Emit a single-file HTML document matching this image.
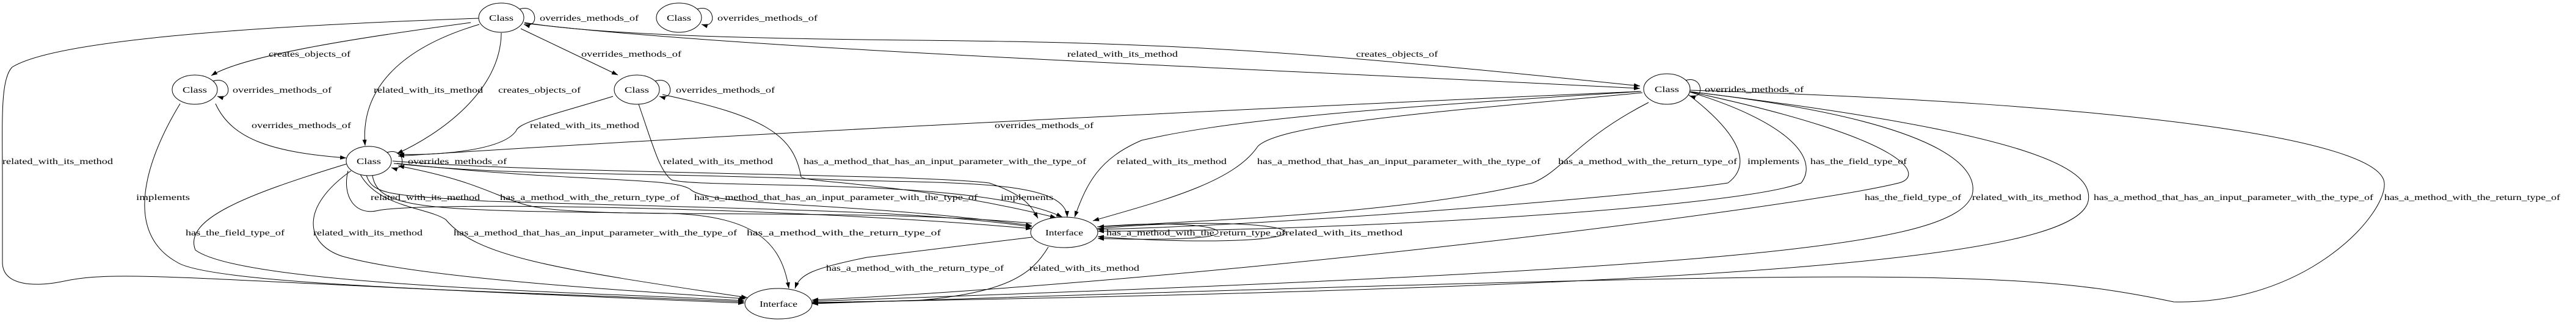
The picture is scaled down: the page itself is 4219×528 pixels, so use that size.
<!DOCTYPE html>
<html><head><meta charset="utf-8"><style>
html,body{margin:0;padding:0;background:#fff;}
svg{display:block;}
text{font-family:"Liberation Serif",serif;font-size:14px;fill:#000;}
</style></head><body>
<svg width="4219" height="528" viewBox="0 0 4219 528" xmlns="http://www.w3.org/2000/svg">
<defs>
<marker id="a" markerUnits="userSpaceOnUse" markerWidth="11" markerHeight="8" refX="10" refY="3.5" orient="auto"><path d="M0,0 L10,3.5 L0,7 z" fill="#000"/></marker>
</defs>
<g fill="none" stroke="#000" stroke-width="1" marker-end="url(#a)">
<!-- self loops -->
<path d="M851,15 C880,5 885,48 858,40"/>
<path d="M1142,15 C1171,5 1176,48 1149,40"/>
<path d="M349,133 C378,123 383,166 356,158"/>
<path d="M1073,133 C1102,123 1107,166 1080,158"/>
<path d="M634,250 C663,240 668,283 641,275"/>
<path d="M2760,132 C2789,122 2794,165 2767,157"/>
<path d="M1797,375 C1950,360 2105,366 2105,381 C2105,396 1950,400 1798,388"/>
<path d="M1797,372 C1900,363 1995,368 1995,381 C1995,392 1900,394 1798,391"/>
<!-- A edges -->
<path d="M771,37 C600,60 400,90 346,124"/>
<path d="M785,40 C650,80 590,150 598,239"/>
<path d="M821,54 C820,150 720,220 650,252"/>
<path d="M853,47 L1012,123"/>
<path d="M784,30 C500,40 100,60 20,110 C0,130 4,200 4,300 L4,430 C4,470 60,470 100,462 C200,440 300,460 1219,497"/>
<path d="M859,37 C1000,60 1300,64 1500,66 C1900,70 2100,80 2686,141"/>
<path d="M859,38 C1200,80 2000,110 2686,145"/>
<!-- C edges -->
<path d="M353,170 C380,230 450,250 567,259"/>
<path d="M295,170 C240,260 200,380 290,430 C350,470 900,480 1219,495"/>
<!-- D edges -->
<path d="M1004,158 C900,190 850,200 845,215 C820,250 700,255 652,253"/>
<path d="M1046,171 C1070,240 1080,280 1100,295 C1150,310 1600,290 1740,356"/>
<path d="M1085,155 C1250,190 1300,220 1312,290 C1320,300 1500,300 1730,357"/>
<!-- H to E -->
<path d="M2686,150 C2000,180 1200,220 652,256"/>
<!-- E to G -->
<path d="M643,264 C900,285 1500,285 1620,300 C1680,320 1690,340 1700,358"/>
<path d="M645,268 C850,290 1000,280 1400,296 C1600,300 1745,300 1748,356"/>
<path d="M600,287 C610,320 640,320 800,330 C1300,345 1500,345 1690,372"/>
<path d="M1690,366 C1400,340 1000,360 880,340 C820,330 800,300 652,272"/>
<path d="M650,268 C950,300 1100,290 1130,310 C1160,340 1400,330 1690,370"/>
<path d="M570,280 C560,320 580,355 620,345 C700,330 1300,340 1690,375"/>
<!-- E to F -->
<path d="M567,269 C400,320 300,360 320,410 C400,470 1000,480 1219,493"/>
<path d="M575,280 C490,340 500,400 560,420 C700,460 1100,480 1221,490"/>
<path d="M590,286 C620,340 700,340 730,360 C780,420 900,440 1224,488"/>
<path d="M610,288 C620,345 700,345 1100,350 C1240,355 1280,400 1292,473"/>
<!-- G to F -->
<path d="M1690,389 L1420,422 C1330,440 1310,450 1302,473"/>
<path d="M1717,405 C1690,450 1650,480 1500,493 L1330,497"/>
<!-- H to G -->
<path d="M2688,150 C2200,180 2000,200 1870,230 C1800,260 1780,300 1760,356"/>
<path d="M2690,152 C2400,180 2100,200 2060,240 C2020,300 1900,330 1790,362"/>
<path d="M2700,168 C2580,230 2560,280 2510,300 C2300,350 2000,360 1798,372"/>
<path d="M2765,155 C2850,220 2870,270 2830,300 C2700,320 2100,370 1798,376"/>
<path d="M2765,150 C2930,200 2980,260 2950,300 C2850,340 2200,380 1798,379"/>
<!-- H to F -->
<path d="M2765,150 C3140,230 3150,290 3110,300 C2950,340 2000,460 1330,492"/>
<path d="M2765,150 C3200,200 3240,280 3230,320 C3200,400 2900,440 1330,494"/>
<path d="M2765,150 C3350,220 3430,280 3420,330 C3400,420 2900,470 1330,496"/>
<path d="M2768,148 C3500,170 3900,230 3905,300 C3910,350 3780,500 3560,495 C3300,440 3100,440 1330,498"/>
</g>
<g fill="#fff" stroke="#000" stroke-width="1">
<ellipse cx="821" cy="29" rx="37" ry="24"/>
<ellipse cx="1112" cy="29" rx="37" ry="24"/>
<ellipse cx="319" cy="147" rx="37" ry="24"/>
<ellipse cx="1043" cy="147" rx="37" ry="24"/>
<ellipse cx="604" cy="264" rx="37" ry="24"/>
<ellipse cx="2730" cy="146" rx="38" ry="25"/>
<ellipse cx="1275" cy="498" rx="55" ry="25"/>
<ellipse cx="1743" cy="381" rx="55" ry="25"/>
</g>
<g text-anchor="middle">
<text x="821" y="34" textLength="40" lengthAdjust="spacingAndGlyphs">Class</text>
<text x="1112" y="34" textLength="40" lengthAdjust="spacingAndGlyphs">Class</text>
<text x="319" y="152" textLength="40" lengthAdjust="spacingAndGlyphs">Class</text>
<text x="1043" y="152" textLength="40" lengthAdjust="spacingAndGlyphs">Class</text>
<text x="604" y="269" textLength="40" lengthAdjust="spacingAndGlyphs">Class</text>
<text x="2730" y="151" textLength="40" lengthAdjust="spacingAndGlyphs">Class</text>
<text x="1275" y="503" textLength="62" lengthAdjust="spacingAndGlyphs">Interface</text>
<text x="1743" y="386" textLength="62" lengthAdjust="spacingAndGlyphs">Interface</text>
</g>
<g lengthAdjust="spacingAndGlyphs">
<text x="884" y="34" textLength="162" lengthAdjust="spacingAndGlyphs">overrides_methods_of</text>
<text x="1175" y="34" textLength="164" lengthAdjust="spacingAndGlyphs">overrides_methods_of</text>
<text x="440" y="93" textLength="134" lengthAdjust="spacingAndGlyphs">creates_objects_of</text>
<text x="952" y="93" textLength="164" lengthAdjust="spacingAndGlyphs">overrides_methods_of</text>
<text x="381" y="152" textLength="162" lengthAdjust="spacingAndGlyphs">overrides_methods_of</text>
<text x="612" y="152" textLength="179" lengthAdjust="spacingAndGlyphs">related_with_its_method</text>
<text x="816" y="152" textLength="135" lengthAdjust="spacingAndGlyphs">creates_objects_of</text>
<text x="1107" y="152" textLength="162" lengthAdjust="spacingAndGlyphs">overrides_methods_of</text>
<text x="412" y="210" textLength="163" lengthAdjust="spacingAndGlyphs">overrides_methods_of</text>
<text x="868" y="210" textLength="179" lengthAdjust="spacingAndGlyphs">related_with_its_method</text>
<text x="4" y="269" textLength="181" lengthAdjust="spacingAndGlyphs">related_with_its_method</text>
<text x="668" y="269" textLength="162" lengthAdjust="spacingAndGlyphs">overrides_methods_of</text>
<text x="1086" y="269" textLength="180" lengthAdjust="spacingAndGlyphs">related_with_its_method</text>
<text x="1316" y="269" textLength="463" lengthAdjust="spacingAndGlyphs">has_a_method_that_has_an_input_parameter_with_the_type_of</text>
<text x="223" y="328" textLength="88" lengthAdjust="spacingAndGlyphs">implements</text>
<text x="607" y="328" textLength="179" lengthAdjust="spacingAndGlyphs">related_with_its_method</text>
<text x="819" y="328" textLength="294" lengthAdjust="spacingAndGlyphs">has_a_method_with_the_return_type_of</text>
<text x="1137" y="328" textLength="464" lengthAdjust="spacingAndGlyphs">has_a_method_that_has_an_input_parameter_with_the_type_of</text>
<text x="304" y="386" textLength="162" lengthAdjust="spacingAndGlyphs">has_the_field_type_of</text>
<text x="513" y="386" textLength="179" lengthAdjust="spacingAndGlyphs">related_with_its_method</text>
<text x="743" y="386" textLength="464" lengthAdjust="spacingAndGlyphs">has_a_method_that_has_an_input_parameter_with_the_type_of</text>
<text x="1223" y="386" textLength="318" lengthAdjust="spacingAndGlyphs">has_a_method_with_the_return_type_of</text>
<text x="1353" y="444" textLength="291" lengthAdjust="spacingAndGlyphs">has_a_method_with_the_return_type_of</text>
<text x="1748" y="93" textLength="181" lengthAdjust="spacingAndGlyphs">related_with_its_method</text>
<text x="2221" y="93" textLength="134" lengthAdjust="spacingAndGlyphs">creates_objects_of</text>
<text x="1629" y="210" textLength="162" lengthAdjust="spacingAndGlyphs">overrides_methods_of</text>
<text x="1639" y="328" textLength="86" lengthAdjust="spacingAndGlyphs">implements</text>
<text x="1829" y="269" textLength="180" lengthAdjust="spacingAndGlyphs">related_with_its_method</text>
<text x="2059" y="269" textLength="464" lengthAdjust="spacingAndGlyphs">has_a_method_that_has_an_input_parameter_with_the_type_of</text>
<text x="2552" y="269" textLength="293" lengthAdjust="spacingAndGlyphs">has_a_method_with_the_return_type_of</text>
<text x="1812" y="386" textLength="293" lengthAdjust="spacingAndGlyphs">has_a_method_with_the_return_type_of</text>
<text x="2105" y="386" textLength="192" lengthAdjust="spacingAndGlyphs">related_with_its_method</text>
<text x="1686" y="444" textLength="180" lengthAdjust="spacingAndGlyphs">related_with_its_method</text>
<text x="2792" y="151" textLength="162" lengthAdjust="spacingAndGlyphs">overrides_methods_of</text>
<text x="2862" y="269" textLength="85" lengthAdjust="spacingAndGlyphs">implements</text>
<text x="2965" y="269" textLength="158" lengthAdjust="spacingAndGlyphs">has_the_field_type_of</text>
<text x="3054" y="328" textLength="158" lengthAdjust="spacingAndGlyphs">has_the_field_type_of</text>
<text x="3230" y="328" textLength="179" lengthAdjust="spacingAndGlyphs">related_with_its_method</text>
<text x="3429" y="328" textLength="458" lengthAdjust="spacingAndGlyphs">has_a_method_that_has_an_input_parameter_with_the_type_of</text>
<text x="3905" y="328" textLength="288" lengthAdjust="spacingAndGlyphs">has_a_method_with_the_return_type_of</text>
</g>
</svg>
</body></html>
